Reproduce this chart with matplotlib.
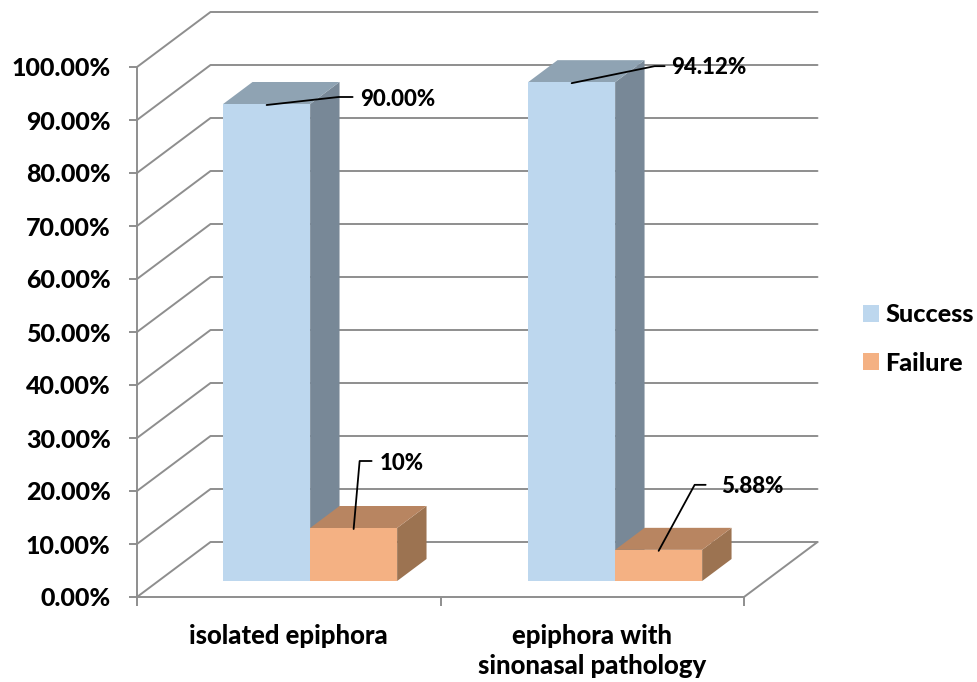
import numpy as np
import matplotlib
matplotlib.use('Agg')
import matplotlib.pyplot as plt
from matplotlib.patches import Polygon, Patch
from matplotlib.transforms import Affine2D, IdentityTransform

plt.rcParams['font.family'] = ['Lato', 'DejaVu Sans']
plt.rcParams['font.weight'] = 'bold'

categories = ['isolated epiphora', 'epiphora with\nsinonasal pathology']
success = [90.0, 94.12]
failure = [10.0, 5.88]
success_labels = ['90.00%', '94.12%']
failure_labels = ['10%', '5.88%']
y_ticks = [0, 10, 20, 30, 40, 50, 60, 70, 80, 90, 100]

W, H = 978, 682
GRID = '#8e8e8e'
GRID_LW = 1.4
WEIGHT = 900
SUCCESS_COLORS = ('#BDD7EE', '#8FA3B3', '#788897')  # front, top, side
FAILURE_COLORS = ('#F4B183', '#B88561', '#9C7351')

# floor depth in pixels, and how far into it the bars stand
DEPTH = np.array([73.5, 55.0])
BAR_D0 = 16 / 55
BAR_D1 = BAR_D0 + 22 / 55

fig = plt.figure(figsize=(W / 100, H / 100), dpi=100)
ax = fig.add_axes([137 / W, (H - 597) / H, 607 / W, 530 / H])
ax.set_xlim(0, 2)
ax.set_ylim(0, 100)
ax.patch.set_visible(False)


def project(x, v, d=0.0):
    return ax.transData.transform((x, v)) + d * DEPTH


def pixel_line(points, **kw):
    pts = np.array(points)
    ax.plot(pts[:, 0], pts[:, 1], transform=IdentityTransform(), clip_on=False,
            solid_capstyle='round', **kw)


# back wall and side wall gridlines
for v in y_ticks:
    pixel_line([project(0, v), project(0, v, 1), project(2, v, 1)],
               color=GRID, lw=GRID_LW, zorder=1)
    if v == 0:
        pixel_line([project(2, v), project(2, v, 1)], color=GRID, lw=GRID_LW, zorder=1)

bar_shift = Affine2D().translate(*(BAR_D0 * DEPTH))
bar_tf = ax.transData + bar_shift
bar_w = 87 / (607 / 2)
centers = [0.5, 1.505]


def draw_box(x0, x1, v, colors, z):
    top = [project(x0, v, BAR_D0), project(x1, v, BAR_D0),
           project(x1, v, BAR_D1), project(x0, v, BAR_D1)]
    side = [project(x1, 0, BAR_D0), project(x1, v, BAR_D0),
            project(x1, v, BAR_D1), project(x1, 0, BAR_D1)]
    ax.add_patch(Polygon(side, closed=True, fc=colors[2], ec='none',
                         transform=IdentityTransform(), clip_on=False, zorder=z))
    ax.add_patch(Polygon(top, closed=True, fc=colors[1], ec='none',
                         transform=IdentityTransform(), clip_on=False, zorder=z))
    ax.bar(x0, v, width=x1 - x0, align='edge', color=colors[0], transform=bar_tf,
           clip_on=False, zorder=z + 0.5)


for i, c in enumerate(centers):
    draw_box(c - bar_w, c, success[i], SUCCESS_COLORS, 3)
    draw_box(c, c + bar_w, failure[i], FAILURE_COLORS, 4)

# leader lines: pixel offsets from the middle of each bar's top front edge
success_leaders = [[(72, 8), (86, 8)], [(83, 17), (93, 17)]]
success_text = [(93, 6), (99, 16)]
failure_leaders = [[(6, 68), (18, 68)], [(36, 66), (47, 66)]]
failure_text = [(26, 65), (62, 64)]


def draw_leader(x, v, bends, text_off, label):
    p = project(x, v, BAR_D0) + np.array([0, -1])
    pixel_line([p] + [p + np.array(b) for b in bends], color='black', lw=1.3, zorder=6)
    tp = p + np.array(text_off)
    ax.text(tp[0], tp[1], label, transform=IdentityTransform(), fontsize=16,
            fontweight=WEIGHT, ha='left', va='center', color='black', zorder=7)


for i, c in enumerate(centers):
    draw_leader(c - bar_w / 2, success[i], success_leaders[i], success_text[i], success_labels[i])
    draw_leader(c + bar_w / 2, failure[i], failure_leaders[i], failure_text[i], failure_labels[i])

for side in ('top', 'right'):
    ax.spines[side].set_visible(False)
for side in ('left', 'bottom'):
    ax.spines[side].set_color(GRID)
    ax.spines[side].set_linewidth(GRID_LW)
    ax.spines[side].set_zorder(2)

ax.set_yticks(y_ticks)
ax.set_yticklabels(['%.2f%%' % v for v in y_ticks], fontsize=18, fontweight=WEIGHT)
ax.set_xticks([0, 1, 2])
ax.set_xticklabels([])
ax.set_xticks([0.5, 1.5], categories, minor=True, fontsize=18.5, fontweight=WEIGHT)
ax.tick_params(axis='y', color=GRID, width=GRID_LW, length=6, pad=13)
ax.tick_params(axis='x', which='major', color=GRID, width=GRID_LW, length=6.5)
ax.tick_params(axis='x', which='minor', length=0, pad=19.5)
for lab in ax.get_xticklabels(minor=True):
    lab.set_linespacing(1.3)

handles = [Patch(fc=SUCCESS_COLORS[0], ec='none', label='Success'),
           Patch(fc=FAILURE_COLORS[0], ec='none', label='Failure')]
fig.legend(handles=handles, loc='center left', bbox_to_anchor=(843 / W, (H - 339) / H),
           frameon=False, handlelength=0.63, handleheight=0.63,
           handletextpad=0.25, labelspacing=1.0, borderpad=0.3,
           prop={'size': 18.2, 'weight': WEIGHT})

fig.savefig('out.png', dpi=100)
